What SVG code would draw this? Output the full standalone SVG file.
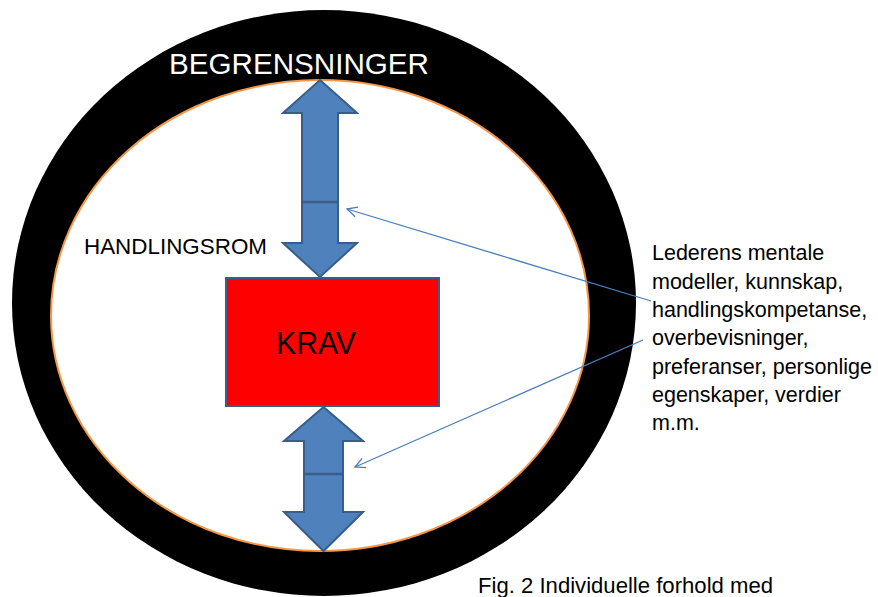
<svg xmlns="http://www.w3.org/2000/svg" width="878" height="597" viewBox="0 0 878 597">
  <style>
    .arrow { fill: #4F81BD; stroke: #385D8A; stroke-width: 2; stroke-linejoin: miter; }
    .seg { stroke: #385D8A; stroke-width: 2.5; }
    .conn { fill: none; stroke: #4A7EBB; stroke-width: 1.3; }
    .txt { font-family: "Liberation Sans", Arial, sans-serif; fill: #000; }
  </style>
  <defs>
    <marker id="open" viewBox="0 0 12 12" refX="11" refY="6" markerWidth="12" markerHeight="12" markerUnits="userSpaceOnUse" orient="auto">
      <path d="M1,1 L11,6 L1,11" fill="none" stroke="#4A7EBB" stroke-width="1.3"/>
    </marker>
  </defs>
  <rect width="878" height="597" fill="#fff"/>

  <g id="begrensninger">
    <ellipse cx="324" cy="303" rx="312" ry="293" fill="#000"/>
    <text class="txt" x="169" y="74" font-size="29.5" fill="#fff" style="fill:#fff" textLength="260" lengthAdjust="spacingAndGlyphs">BEGRENSNINGER</text>
  </g>

  <g id="handlingsrom">
    <ellipse cx="320" cy="315.5" rx="269" ry="235.5" fill="#fff" stroke="#F79646" stroke-width="2"/>
    <text class="txt" x="84" y="254" font-size="22" textLength="183" lengthAdjust="spacingAndGlyphs">HANDLINGSROM</text>
  </g>

  <g id="krav">
    <rect x="226" y="278" width="213" height="128" fill="#FF0000" stroke="#385D8A" stroke-width="2"/>
    <text class="txt" x="276" y="354" font-size="31" textLength="80" lengthAdjust="spacingAndGlyphs">KRAV</text>
  </g>

  <g id="upper-arrow">
    <polygon class="arrow" points="320,80 357,113 338,113 338,243 357,243 320,277 283,243 302,243 302,113 283,113"/>
    <line class="seg" x1="302" y1="202" x2="338" y2="202"/>
  </g>

  <g id="lower-arrow">
    <polygon class="arrow" points="323.5,407 363,441 343,441 343,512 363,512 323.5,551 284,512 304,512 304,441 284,441"/>
    <line class="seg" x1="304" y1="474" x2="343" y2="474"/>
  </g>

  <g id="description">
    <text class="txt" font-size="21.5">
      <tspan x="652" y="260">Lederens mentale</tspan>
      <tspan x="652" y="288.5">modeller, kunnskap,</tspan>
      <tspan x="652" y="317">handlingskompetanse,</tspan>
      <tspan x="652" y="345">overbevisninger,</tspan>
      <tspan x="652" y="373.5">preferanser, personlige</tspan>
      <tspan x="652" y="402">egenskaper, verdier</tspan>
      <tspan x="652" y="430">m.m.</tspan>
    </text>
  </g>

  <g id="caption">
    <text class="txt" x="478" y="593" font-size="22" textLength="295" lengthAdjust="spacingAndGlyphs">Fig. 2 Individuelle forhold med</text>
  </g>

  <g id="connectors">
    <line class="conn" x1="651" y1="301" x2="347" y2="209" marker-end="url(#open)"/>
    <line class="conn" x1="643" y1="340" x2="355" y2="467" marker-end="url(#open)"/>
  </g>
</svg>
